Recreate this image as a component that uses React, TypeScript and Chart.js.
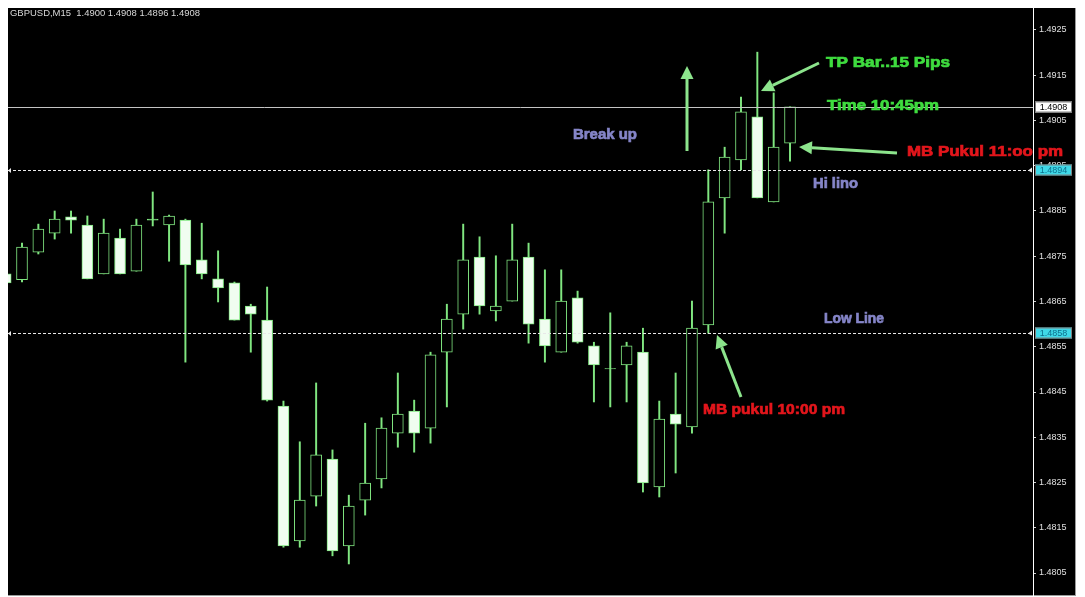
import React, { useEffect, useRef } from 'react';
import { Chart, registerables } from 'chart.js';

Chart.register(...registerables);

// ---------- data ----------
const symbolLabel = 'GBPUSD,M15';
const headerValues = ['1.4900', '1.4908', '1.4896', '1.4908'];

const candleOpen = [
  1.48711, 1.48698, 1.48759, 1.48801, 1.48837, 1.48819, 1.48711, 1.48790, 1.48717, 1.48830,
  1.48819, 1.48830, 1.48742, 1.48700, 1.48691, 1.48640, 1.48609, 1.48419, 1.48121, 1.48220,
  1.48302, 1.48110, 1.48211, 1.48258, 1.48359, 1.48408, 1.48370, 1.48538, 1.48622, 1.48748,
  1.48629, 1.48651, 1.48748, 1.48611, 1.48538, 1.48658, 1.48552, 1.48501, 1.48510, 1.48538,
  1.48240, 1.48401, 1.48373, 1.48598, 1.48879, 1.48963, 1.49058, 1.48870, 1.49000,
];
const candleHigh = [
  1.48724, 1.48779, 1.48821, 1.48850, 1.48850, 1.48839, 1.48832, 1.48810, 1.48832, 1.48892,
  1.48841, 1.48832, 1.48823, 1.48762, 1.48693, 1.48644, 1.48682, 1.48430, 1.48340, 1.48470,
  1.48322, 1.48222, 1.48381, 1.48393, 1.48492, 1.48432, 1.48538, 1.48644, 1.48821, 1.48793,
  1.48751, 1.48821, 1.48779, 1.48720, 1.48720, 1.48673, 1.48560, 1.48625, 1.48560, 1.48591,
  1.48430, 1.48492, 1.48651, 1.48941, 1.48991, 1.49102, 1.49201, 1.49111, 1.49080,
];
const candleLow = [
  1.48682, 1.48693, 1.48755, 1.48788, 1.48801, 1.48700, 1.48711, 1.48711, 1.48717, 1.48817,
  1.48739, 1.48516, 1.48700, 1.48649, 1.48609, 1.48538, 1.48430, 1.48107, 1.48107, 1.48198,
  1.48088, 1.48070, 1.48178, 1.48238, 1.48328, 1.48317, 1.48337, 1.48417, 1.48589, 1.48622,
  1.48607, 1.48651, 1.48558, 1.48516, 1.48538, 1.48558, 1.48428, 1.48417, 1.48428, 1.48229,
  1.48218, 1.48271, 1.48359, 1.48580, 1.48801, 1.48941, 1.48879, 1.48870, 1.48960,
];
const candleClose = [
  1.48691, 1.48770, 1.48810, 1.48832, 1.48830, 1.48700, 1.48801, 1.48711, 1.48819, 1.48832,
  1.48839, 1.48731, 1.48711, 1.48680, 1.48609, 1.48622, 1.48432, 1.48110, 1.48211, 1.48311,
  1.48099, 1.48198, 1.48249, 1.48370, 1.48401, 1.48359, 1.48532, 1.48611, 1.48742, 1.48640,
  1.48640, 1.48742, 1.48600, 1.48552, 1.48651, 1.48560, 1.48510, 1.48502, 1.48552, 1.48249,
  1.48390, 1.48379, 1.48591, 1.48870, 1.48969, 1.49069, 1.48879, 1.48991, 1.49080,
];

const priceTicks = [
  1.4805, 1.4815, 1.4825, 1.4835, 1.4845, 1.4855, 1.4865,
  1.4875, 1.4885, 1.4895, 1.4905, 1.4915, 1.4925,
];
const bidPrice = 1.4908;
const hiLinePrice = 1.4894;
const lowLinePrice = 1.4858;

const noteTexts = ['Break up', 'TP Bar..15 Pips', 'Time 10:45pm', 'MB Pukul 11:oo pm', 'Hi lino', 'Low Line', 'MB pukul 10:00 pm'];

// ---------- layout / style ----------
const Y_MIN = 1.480014;
const Y_MAX = 1.492986;
const X_MIN = 0.143;
const X_MAX = 62.87;
const GREEN = '#80e680';
const BEAR_FILL = '#f0fdf0';
const NOTE_GREEN = '#3fdc3f';
const NOTE_RED = '#e3161c';
const NOTE_BLUE = '#8585c8';
const ARROW = '#8ce48c';
const OFF = 8; // page margin -> canvas coords

const notes = [
  { t: 0, x: 573, y: 135, w: 64, c: NOTE_BLUE },
  { t: 1, x: 826, y: 63, w: 124, c: NOTE_GREEN },
  { t: 2, x: 827, y: 106, w: 112, c: NOTE_GREEN },
  { t: 3, x: 907, y: 152, w: 156, c: NOTE_RED },
  { t: 4, x: 813, y: 184, w: 45, c: NOTE_BLUE },
  { t: 5, x: 824, y: 319, w: 60, c: NOTE_BLUE },
  { t: 6, x: 703, y: 410, w: 142, c: NOTE_RED },
];
const arrows = [
  [687, 151, 687, 66],
  [819, 63, 761, 91],
  [897, 153, 799, 147],
  [741, 397, 717, 335],
];

function fitText(ctx: CanvasRenderingContext2D, text: string, x: number, y: number, w: number, font: string, color: string, heavy: boolean) {
  ctx.save();
  ctx.font = font;
  ctx.fillStyle = color;
  ctx.strokeStyle = color;
  ctx.lineWidth = 0.7;
  ctx.textBaseline = 'middle';
  ctx.textAlign = 'left';
  const m = ctx.measureText(text).width;
  ctx.translate(x, y);
  ctx.scale(w / m, 1);
  ctx.fillText(text, 0, 0);
  if (heavy) ctx.strokeText(text, 0, 0);
  ctx.restore();
}

function drawArrow(ctx: CanvasRenderingContext2D, x1: number, y1: number, x2: number, y2: number) {
  const a = Math.atan2(y2 - y1, x2 - x1);
  const hl = 13, hw = 6.5;
  const bx = x2 - hl * Math.cos(a), by = y2 - hl * Math.sin(a);
  ctx.save();
  ctx.strokeStyle = ARROW;
  ctx.fillStyle = ARROW;
  ctx.lineWidth = 3;
  ctx.beginPath();
  ctx.moveTo(x1, y1);
  ctx.lineTo(bx, by);
  ctx.stroke();
  ctx.beginPath();
  ctx.moveTo(x2, y2);
  ctx.lineTo(bx + hw * Math.sin(a), by - hw * Math.cos(a));
  ctx.lineTo(bx - hw * Math.sin(a), by + hw * Math.cos(a));
  ctx.closePath();
  ctx.fill();
  ctx.restore();
}

function priceBox(ctx: CanvasRenderingContext2D, y: number, label: string, bg: string, fg: string) {
  ctx.save();
  ctx.fillStyle = bg;
  ctx.fillRect(1027, Math.round(y) - 5.5, 37, 11);
  ctx.strokeStyle = '#808080';
  ctx.lineWidth = 1;
  ctx.strokeRect(1027.5, Math.round(y) - 5, 36, 10);
  ctx.fillStyle = fg;
  ctx.font = '9px "Liberation Sans"';
  ctx.textAlign = 'center';
  ctx.textBaseline = 'middle';
  ctx.fillText(label, 1045.5, Math.round(y) + 0.5);
  ctx.restore();
}

const mtPlugin = {
  id: 'mt4',
  beforeDraw(chart: any) {
    const { ctx, width, height, chartArea } = chart;
    ctx.save();
    ctx.fillStyle = '#ffffff';
    ctx.fillRect(0, 0, width, height);
    ctx.fillStyle = '#000000';
    ctx.fillRect(0, 0, width - 2, chartArea.bottom);
    ctx.fillStyle = '#9a9a9a';
    ctx.fillRect(width - 2, 0, 1, chartArea.bottom + 1);
    ctx.fillRect(0, chartArea.bottom, width - 2, 1);
    ctx.restore();
  },
  afterDatasetsDraw(chart: any) {
    const { ctx, chartArea, scales } = chart;
    const y = scales.y;
    ctx.save();
    ctx.lineWidth = 1;
    ctx.strokeStyle = '#c4c4c4';
    const yb = Math.round(y.getPixelForValue(bidPrice)) + 0.5;
    ctx.beginPath();
    ctx.moveTo(chartArea.left, yb);
    ctx.lineTo(chartArea.right, yb);
    ctx.stroke();
    ctx.strokeStyle = '#e8e8e8';
    ctx.setLineDash([3, 2]);
    [hiLinePrice, lowLinePrice].forEach((p) => {
      const yy = Math.round(y.getPixelForValue(p)) + 0.5;
      ctx.beginPath();
      ctx.moveTo(chartArea.left, yy);
      ctx.lineTo(chartArea.right - 4, yy);
      ctx.stroke();
    });
    ctx.setLineDash([]);
    ctx.fillStyle = '#e8e8e8';
    [hiLinePrice, lowLinePrice].forEach((p) => {
      const yy = Math.round(y.getPixelForValue(p)) + 0.5;
      ctx.beginPath();
      ctx.moveTo(chartArea.left, yy);
      ctx.lineTo(chartArea.left + 3, yy - 2.5);
      ctx.lineTo(chartArea.left + 3, yy + 2.5);
      ctx.fill();
      ctx.beginPath();
      ctx.moveTo(chartArea.right - 5, yy);
      ctx.lineTo(chartArea.right - 1, yy - 3);
      ctx.lineTo(chartArea.right - 1, yy + 2);
      ctx.fill();
    });
    ctx.restore();
  },
  afterDraw(chart: any) {
    const { ctx, scales } = chart;
    const y = scales.y;
    priceBox(ctx, y.getPixelForValue(bidPrice), bidPrice.toFixed(4), '#ffffff', '#000000');
    priceBox(ctx, y.getPixelForValue(hiLinePrice), hiLinePrice.toFixed(4), '#3fd9e8', '#0d6f8c');
    priceBox(ctx, y.getPixelForValue(lowLinePrice), lowLinePrice.toFixed(4), '#3fd9e8', '#0d6f8c');

    fitText(ctx, `${symbolLabel}  ${headerValues.join(' ')}`, 10 - OFF, 13 - OFF, 190, '9.5px "Liberation Sans"', '#d8d8d8', false);

    arrows.forEach(([x1, y1, x2, y2]) => drawArrow(ctx, x1 - OFF, y1 - OFF, x2 - OFF, y2 - OFF));
    notes.forEach((n) => fitText(ctx, noteTexts[n.t], n.x - OFF, n.y - OFF, n.w, 'bold 15px "Liberation Sans"', n.c, true));
  },
};

export default function App() {
  const ref = useRef<HTMLCanvasElement>(null);
  useEffect(() => {
    const canvas = ref.current;
    if (!canvas) return;
    const idx = candleOpen.map((_, i) => i);
    const bodyData = idx.map((i) => ({ x: i, y: [candleOpen[i], candleClose[i]] }));
    const wickData = idx.map((i) => ({ x: i, y: [candleLow[i], candleHigh[i]] }));
    const bodyFill = idx.map((i) => {
      if (Math.abs(candleClose[i] - candleOpen[i]) < 0.00005) return GREEN;
      return candleClose[i] >= candleOpen[i] ? '#000000' : BEAR_FILL;
    });
    const chart = new Chart(canvas, {
      type: 'bar',
      data: {
        datasets: [
          {
            label: 'body',
            data: bodyData as any,
            backgroundColor: bodyFill,
            borderColor: GREEN,
            borderWidth: 1,
            borderSkipped: false,
            barThickness: 11,
            grouped: false,
            order: 0,
          } as any,
          {
            label: 'wick',
            data: wickData as any,
            backgroundColor: GREEN,
            borderWidth: 0,
            barThickness: 1.3,
            grouped: false,
            order: 1,
          } as any,
        ],
      },
      options: {
        responsive: false,
        animation: false,
        events: [],
        layout: { padding: { left: 0, right: 0, top: 0, bottom: 2 } },
        plugins: { legend: { display: false }, tooltip: { enabled: false } },
        scales: {
          x: { type: 'linear', min: X_MIN, max: X_MAX, display: false, offset: false } as any,
          y: {
            position: 'right',
            min: Y_MIN,
            max: Y_MAX,
            afterBuildTicks: (s: any) => {
              s.ticks = priceTicks.map((v) => ({ value: v }));
            },
            afterFit: (s: any) => {
              s.width = 44;
              s.paddingTop = 0;
              s.paddingBottom = 0;
            },
            ticks: {
              color: '#e0e0e0',
              font: { family: 'Liberation Sans', size: 9 },
              padding: 3,
              autoSkip: false,
              callback: (v: any) => Number(v).toFixed(4),
            },
            grid: { drawOnChartArea: false, color: '#d0d0d0', tickLength: 3 },
            border: { display: true, color: '#ffffff', width: 1 },
          } as any,
        },
      },
      plugins: [mtPlugin],
    });
    return () => chart.destroy();
  }, []);
  return <canvas ref={ref} width={1069} height={589} style={{ display: 'block' }} />;
}
